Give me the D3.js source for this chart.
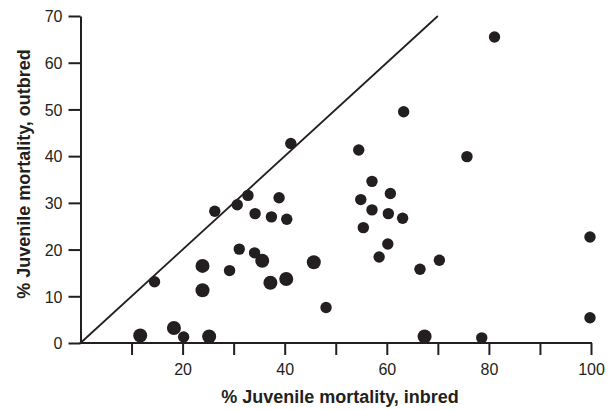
<!DOCTYPE html>
<html>
  <head>
    <meta charset="utf-8">
    <title>Juvenile mortality, inbred vs outbred</title>
    <script src="https://d3js.org/d3.v7.min.js"></script>
    <style>
      body { margin: 0; background: #fff; }
      #chart { display: block; font-family: "Liberation Sans", Arial, sans-serif; }
      .tick text { font-size: 16px; fill: #231f20; }
      .title { font-size: 18px; font-weight: bold; fill: #231f20; }
    </style>
  </head>
  <body>
    <svg id="chart" width="616" height="410"></svg>
    <script>
      // chart data
      var inbred = [11.7, 18.3, 20.2, 25.2, 14.5, 23.9, 23.9, 29.2, 26.3, 30.7, 32.8, 34.2, 31.1, 34.1,
        41.2, 38.9, 37.4, 40.4, 35.6, 37.2, 40.3, 45.7, 48.1, 54.5, 57.1, 60.7, 54.9, 57.1, 60.3, 63.1,
        55.4, 60.2, 58.5, 66.5, 67.4, 81.1, 63.3, 75.7, 70.3, 78.6, 99.8, 99.8];
      var outbred = [1.6, 3.2, 1.3, 1.4, 13.1, 16.5, 11.3, 15.5, 28.2, 29.6, 31.6, 27.7, 20.1, 19.3,
        42.7, 31.1, 27.0, 26.5, 17.6, 12.9, 13.7, 17.3, 7.6, 41.3, 34.6, 32.0, 30.7, 28.5, 27.7, 26.7,
        24.7, 21.2, 18.4, 15.8, 1.4, 65.5, 49.5, 39.9, 17.7, 1.1, 22.7, 5.4];
      // 1 = large dot, 0 = small dot
      var large = [1, 1, 0, 1, 0, 1, 1, 0, 0, 0, 0, 0, 0, 0,
        0, 0, 0, 0, 1, 1, 1, 1, 0, 0, 0, 0, 0, 0, 0, 0,
        0, 0, 0, 0, 1, 0, 0, 0, 0, 0, 0, 0];
      var xTicks = [10, 20, 30, 40, 50, 60, 70, 80, 90, 100];
      var xLabels = [20, 40, 60, 80, 100];
      var yTicks = [0, 10, 20, 30, 40, 50, 60, 70];
      var diagonal = [0, 70];

      var points = inbred.map(function(d, i) {
        return { x: d, y: outbred[i], big: large[i] };
      });

      var ink = "#231f20";
      var chart = d3.select("#chart");

      var x = d3.scaleLinear().domain([0, 100]).range([80.5, 591]);
      var y = d3.scaleLinear().domain([0, 70]).range([343, 16]);

      // x axis
      var xAxis = d3.axisBottom(x)
        .tickValues(xTicks)
        .tickSize(12)
        .tickSizeOuter(0)
        .tickPadding(6)
        .tickFormat(function(d) { return xLabels.indexOf(d) > -1 ? d : ""; });
      var gx = chart.append("g")
        .attr("transform", "translate(0," + y(0) + ")")
        .call(xAxis);
      gx.select(".domain").attr("d", "M" + (x(0) - 1) + ",0H" + (x(100) + 1));

      // y axis
      var yAxis = d3.axisLeft(y)
        .tickValues(yTicks)
        .tickSize(12)
        .tickSizeOuter(0)
        .tickPadding(6);
      var gy = chart.append("g")
        .attr("transform", "translate(" + x(0) + ",0)")
        .call(yAxis);

      chart.selectAll(".domain, .tick line")
        .attr("stroke", ink)
        .attr("stroke-width", 2);
      gx.selectAll(".tick text").attr("dy", "0.9em");
      gy.selectAll(".tick text").attr("dy", "0.36em");

      // line of equality
      chart.append("line")
        .attr("x1", x(diagonal[0])).attr("y1", y(diagonal[0]))
        .attr("x2", x(diagonal[1])).attr("y2", y(diagonal[1]))
        .attr("stroke", ink)
        .attr("stroke-width", 1.8);

      // dots
      chart.append("g")
        .selectAll("circle")
        .data(points)
        .enter().append("circle")
          .attr("cx", function(d) { return x(d.x); })
          .attr("cy", function(d) { return y(d.y); })
          .attr("r", function(d) { return d.big ? 7 : 5.7; })
          .attr("fill", ink);

      // axis titles
      chart.append("text")
        .classed("title", true)
        .attr("x", 340)
        .attr("y", 403)
        .attr("text-anchor", "middle")
        .text("% Juvenile mortality, inbred");
      chart.append("text")
        .classed("title", true)
        .attr("transform", "translate(30,174) rotate(-90)")
        .attr("text-anchor", "middle")
        .text("% Juvenile mortality, outbred");
    </script>
  </body>
</html>
